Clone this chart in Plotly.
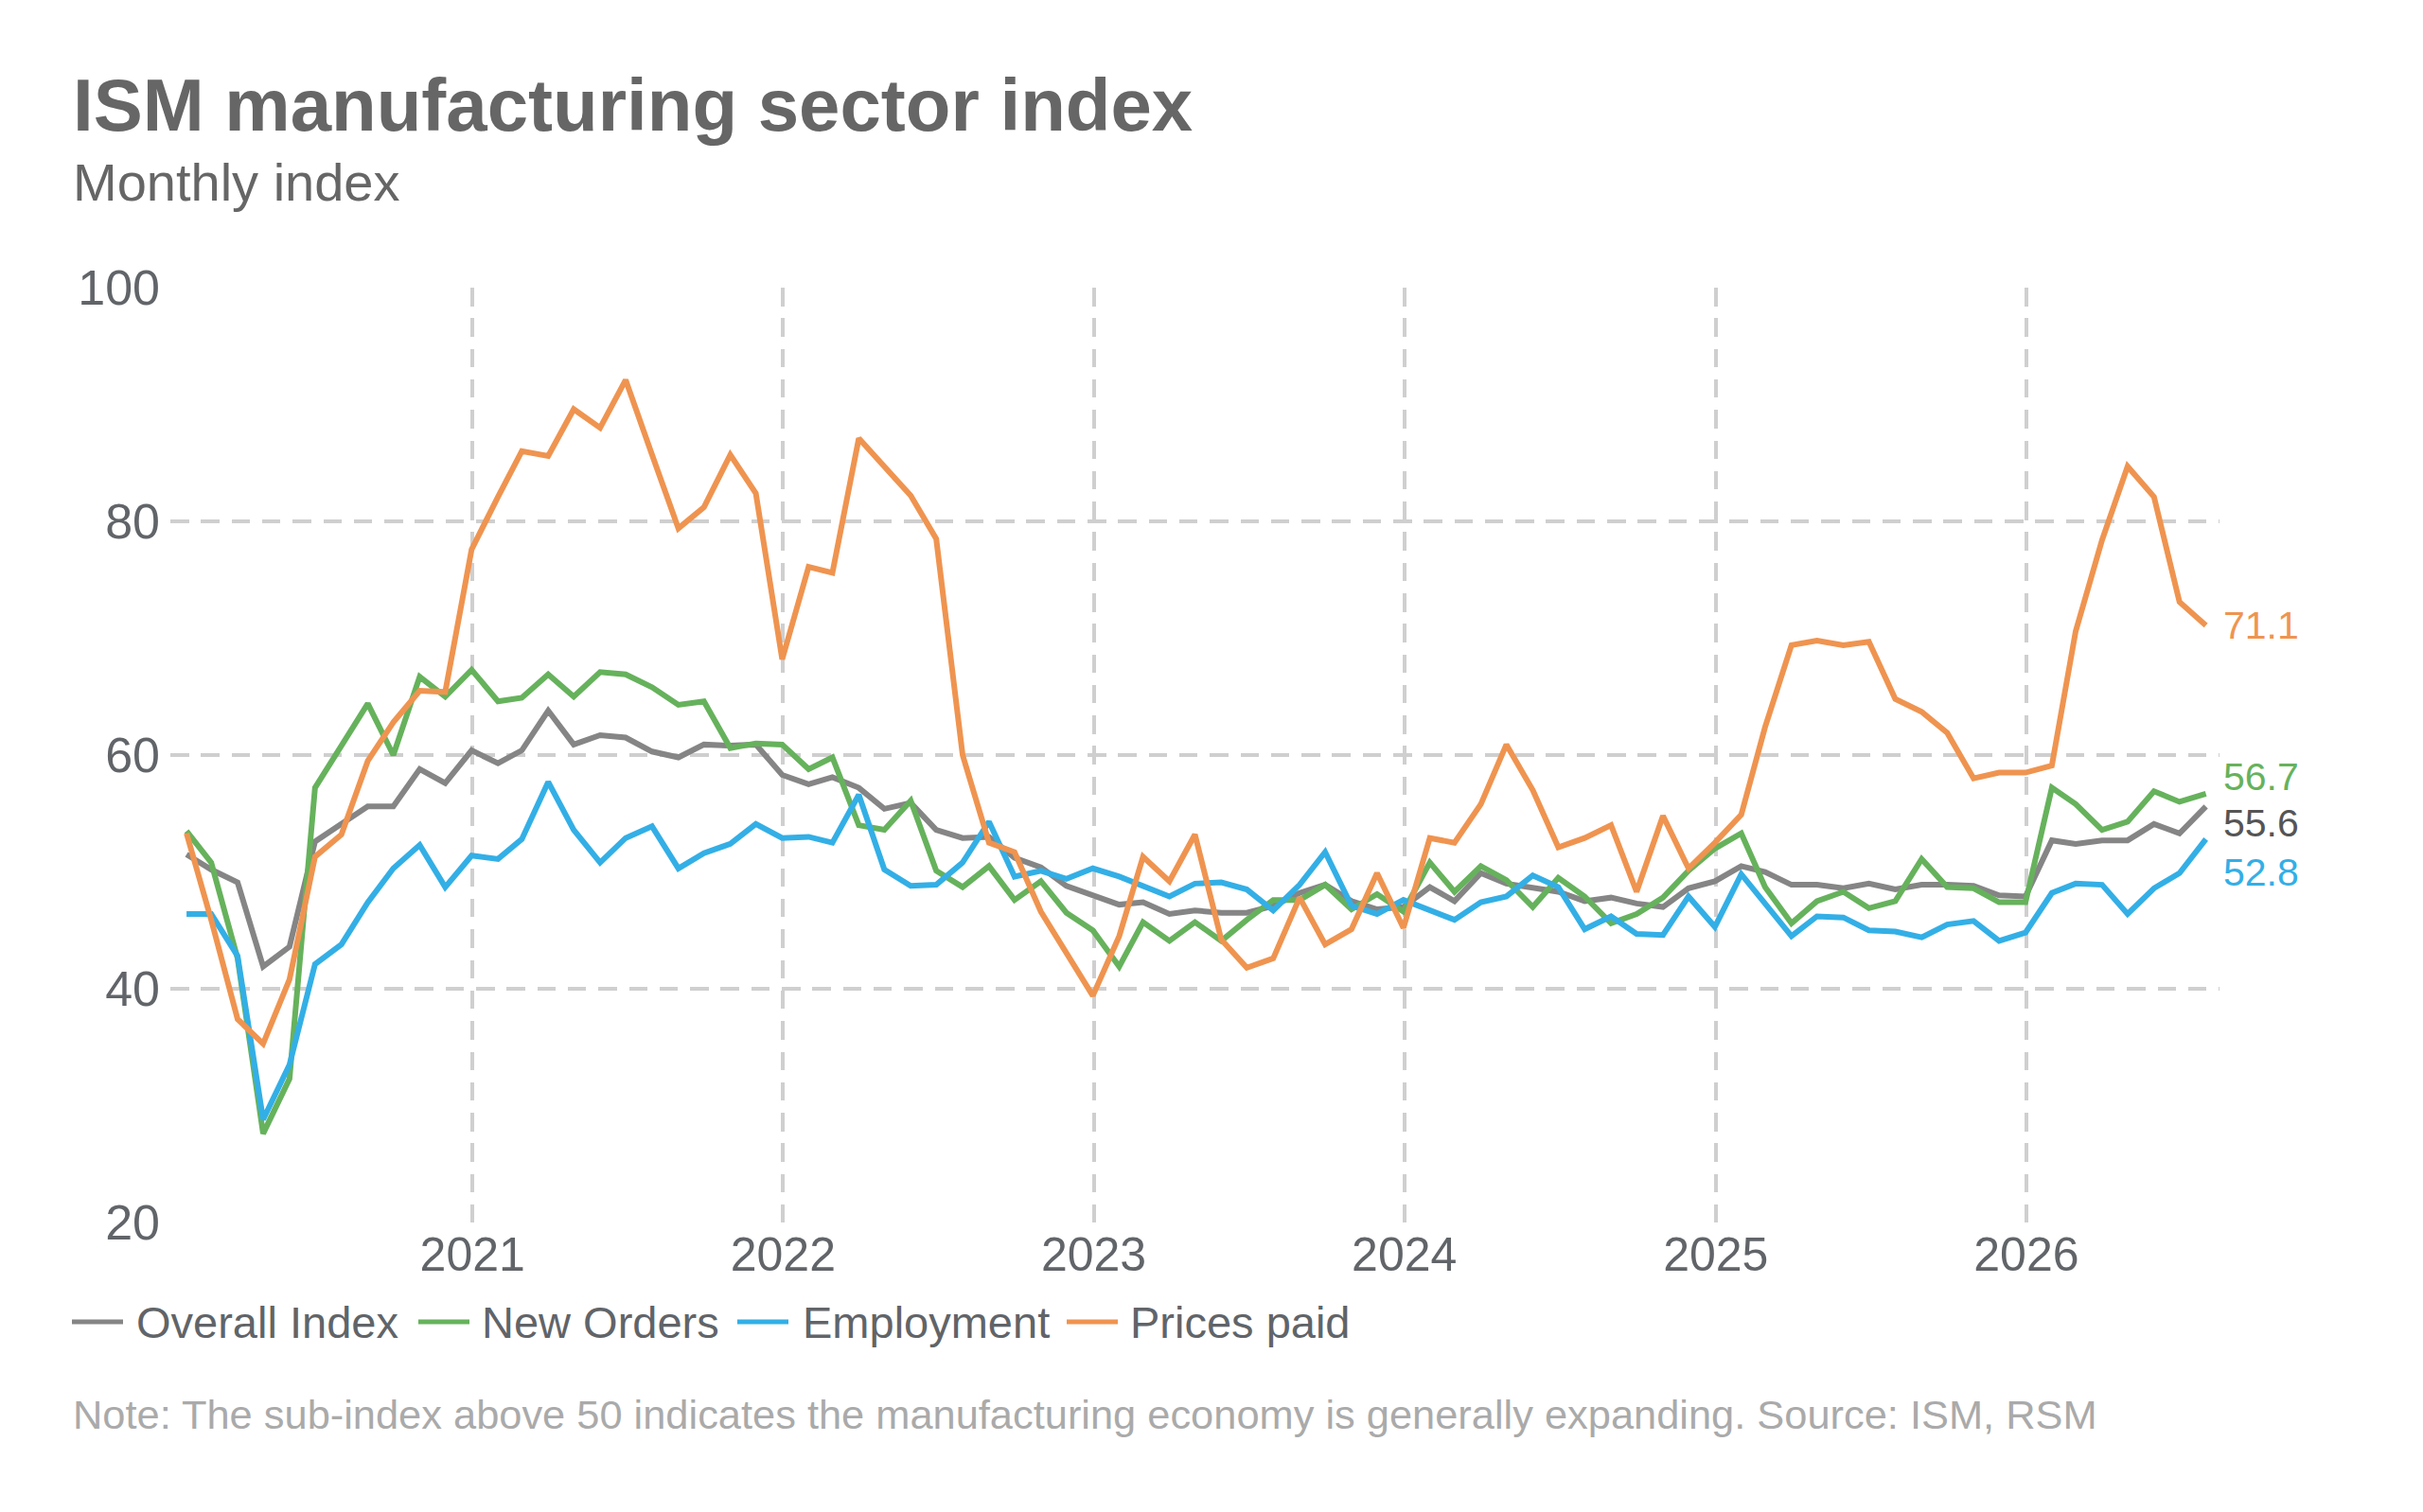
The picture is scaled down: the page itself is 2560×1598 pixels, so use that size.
import pandas as pd
import plotly.graph_objects as go

# monthly readings, Jan 2020 - Jul 2026 (plotted at month end)
months = pd.date_range("2020-01-31", periods=79, freq="ME")

overall = [51.5, 50.2, 49.1, 41.9, 43.6, 52.6, 54.1, 55.6, 55.6, 58.8, 57.6, 60.4,
           59.3, 60.4, 63.8, 60.9, 61.7, 61.5, 60.3, 59.8, 60.9, 60.8, 60.9, 58.3,
           57.5, 58.1, 57.2, 55.4, 55.9, 53.6, 52.9, 53.0, 51.2, 50.4, 48.8, 48.0,
           47.2, 47.4, 46.4, 46.7, 46.5, 46.5, 47.1, 48.2, 48.9, 47.5, 46.8, 47.0,
           48.7, 47.5, 49.9, 49.0, 48.7, 48.3, 47.5, 47.8, 47.3, 47.0, 48.6, 49.2,
           50.5, 50.0, 48.9, 48.9, 48.6, 49.0, 48.5, 48.9, 48.9, 48.8, 48.0, 47.9,
           52.7, 52.4, 52.7, 52.7, 54.1, 53.3, 55.6]

new_orders = [53.5, 50.8, 42.6, 27.6, 32.3, 57.2, 60.8, 64.4, 60.0, 66.7, 65.0, 67.3,
              64.6, 64.9, 66.9, 65.0, 67.1, 66.9, 65.8, 64.3, 64.6, 60.6, 61.0, 60.9,
              58.8, 59.8, 54.0, 53.6, 56.1, 50.1, 48.7, 50.5, 47.6, 49.2, 46.5, 45.0,
              41.9, 45.7, 44.1, 45.7, 44.1, 45.9, 47.6, 47.6, 48.9, 46.8, 48.1, 46.6,
              50.8, 48.3, 50.5, 49.3, 47.0, 49.5, 47.9, 45.6, 46.4, 47.8, 50.1, 52.0,
              53.3, 48.7, 45.6, 47.5, 48.3, 46.9, 47.5, 51.1, 48.7, 48.6, 47.4, 47.4,
              57.2, 55.8, 53.6, 54.3, 56.9, 56.0, 56.7]

employment = [46.4, 46.4, 42.8, 28.8, 33.5, 42.1, 43.8, 47.4, 50.3, 52.3, 48.7, 51.4,
              51.1, 52.8, 57.7, 53.6, 50.8, 52.9, 53.9, 50.3, 51.6, 52.4, 54.1, 52.9,
              53.0, 52.5, 56.6, 50.2, 48.8, 48.9, 50.8, 54.3, 49.6, 50.1, 49.4, 50.3,
              49.6, 48.8, 47.9, 49.0, 49.1, 48.5, 46.7, 48.9, 51.7, 47.1, 46.4, 47.6,
              46.7, 45.9, 47.4, 47.9, 49.7, 48.7, 45.1, 46.2, 44.7, 44.6, 47.9, 45.3,
              49.8, 47.2, 44.5, 46.2, 46.1, 45.0, 44.9, 44.4, 45.5, 45.8, 44.1, 44.8,
              48.2, 49.0, 48.9, 46.4, 48.6, 49.9, 52.8]

prices = [53.3, 45.9, 37.4, 35.3, 40.8, 51.3, 53.2, 59.5, 62.8, 65.5, 65.4, 77.6,
          82.1, 86.0, 85.6, 89.6, 88.0, 92.1, 85.7, 79.4, 81.2, 85.7, 82.4, 68.2,
          76.1, 75.6, 87.1, 84.6, 82.2, 78.5, 60.0, 52.5, 51.7, 46.6, 43.0, 39.4,
          44.5, 51.3, 49.2, 53.2, 44.2, 41.8, 42.6, 47.8, 43.8, 45.1, 49.9, 45.2,
          52.9, 52.5, 55.8, 60.9, 57.0, 52.1, 52.9, 54.0, 48.3, 54.8, 50.3, 52.5,
          54.9, 62.4, 69.4, 69.8, 69.4, 69.7, 64.8, 63.7, 61.9, 58.0, 58.5, 58.5,
          59.1, 70.6, 78.4, 84.7, 82.1, 73.1, 71.1]

names = ["Overall Index", "New Orders", "Employment", "Prices paid"]
values = [overall, new_orders, employment, prices]
colors = ["#858585", "#66b25c", "#33afe6", "#ef9450"]
label_colors = ["#555555", "#66b25c", "#33afe6", "#ef9450"]
label_shift = [-18, 18, -35, 0]          # px nudges so end labels don't collide
legend_x = [(68, 134), (434, 499), (771, 838), (1119, 1184)]  # (symbol, text) fig px

FONT = "Liberation Sans, Arial, sans-serif"
TEXT = "#616468"
W, H = 2544, 1582
ML, MR, MT, MB = 172, 207, 296, 298


def px(x, y):
    # figure pixels -> paper coords
    return (x - ML) / (W - ML - MR), (H - MB - y) / (H - MT - MB)


fig = go.Figure()
for name, vals, col in zip(names, values, colors):
    fig.add_trace(go.Scatter(x=months, y=vals, name=name, mode="lines",
                             line=dict(color=col, width=6)))

# end-of-line value labels
for vals, col, shift in zip(values, label_colors, label_shift):
    fig.add_annotation(x=months[-1], y=vals[-1], text=f"{vals[-1]:.1f}", showarrow=False,
                       xanchor="left", yanchor="middle", xshift=16, yshift=shift,
                       font=dict(family=FONT, size=41, color=col))

# legend drawn by hand so the key lines are as long as in the original
ly = 1389
for name, col, (sx0, tx0) in zip(names, colors, legend_x):
    a, b = px(sx0, ly)
    c, _ = px(sx0 + 54, ly)
    fig.add_shape(type="line", xref="paper", yref="paper", x0=a, x1=c, y0=b, y1=b,
                  line=dict(color=col, width=5))
    t, _ = px(tx0, ly - 1)
    fig.add_annotation(x=t, y=b, xref="paper", yref="paper", xanchor="left", yanchor="middle",
                       text=name, showarrow=False, font=dict(family=FONT, size=47, color=TEXT))

tx, ty = px(67, 103)
fig.add_annotation(x=tx, y=ty, xref="paper", yref="paper", xanchor="left", yanchor="middle",
                   text="<b>ISM manufacturing sector index</b>", showarrow=False,
                   font=dict(family=FONT, size=78, color="#666666"))
sx, sy = px(67, 185)
fig.add_annotation(x=sx, y=sy, xref="paper", yref="paper", xanchor="left", yanchor="middle",
                   text="Monthly index", showarrow=False,
                   font=dict(family=FONT, size=56, color="#666666"))
nx, ny = px(67, 1487)
fig.add_annotation(x=nx, y=ny, xref="paper", yref="paper", xanchor="left", yanchor="middle",
                   text="Note: The sub-index above 50 indicates the manufacturing economy is generally expanding. Source: ISM, RSM",
                   showarrow=False, font=dict(family=FONT, size=43.4, color="#aaaaaa"))

grid = dict(showgrid=True, gridcolor="#cfcfcf", gridwidth=4, griddash="19.5px,12.8px",
            showline=False, zeroline=False, ticks="")
fig.update_layout(
    width=W, height=H,
    margin=dict(l=ML, r=MR, t=MT, b=MB),
    paper_bgcolor="white", plot_bgcolor="white",
    font=dict(family=FONT, color=TEXT),
    showlegend=False,
    xaxis=dict(range=["2020-01-12", "2026-08-16"], tick0="2021-01-01", dtick="M12",
               tickformat="%Y", tickfont=dict(size=50, color=TEXT), **grid),
    yaxis=dict(range=[20, 100], tickvals=[20, 40, 60, 80, 100], ticklabelstandoff=10,
               tickfont=dict(size=52, color=TEXT), **grid),
)

fig.write_html("out.html")
